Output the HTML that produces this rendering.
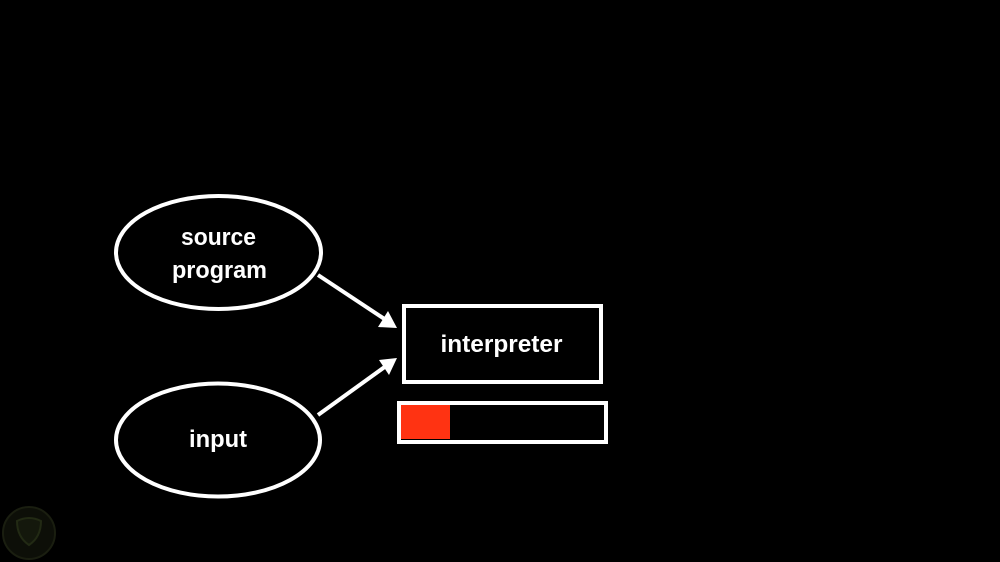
<!DOCTYPE html>
<html>
<head>
<meta charset="utf-8">
<style>
html,body{margin:0;padding:0;background:#000;}
body{width:1000px;height:562px;overflow:hidden;}
svg{display:block;}
text{font-family:"Liberation Sans",sans-serif;font-weight:bold;fill:#fff;font-size:24px;}
</style>
</head>
<body>
<svg width="1000" height="562" viewBox="0 0 1000 562" xmlns="http://www.w3.org/2000/svg">
<rect x="0" y="0" width="1000" height="562" fill="#000"/>
<!-- ellipses -->
<ellipse cx="218.5" cy="252.5" rx="102.5" ry="56.5" fill="none" stroke="#fff" stroke-width="4"/>
<ellipse cx="218" cy="440" rx="102" ry="56.5" fill="none" stroke="#fff" stroke-width="4"/>
<text x="218.5" y="245" text-anchor="middle" textLength="75" lengthAdjust="spacingAndGlyphs">source</text>
<text x="219.5" y="278" text-anchor="middle" textLength="95" lengthAdjust="spacingAndGlyphs">program</text>
<text x="218" y="447" text-anchor="middle" textLength="58" lengthAdjust="spacingAndGlyphs">input</text>
<!-- interpreter box -->
<rect x="404" y="306" width="197" height="76" fill="none" stroke="#fff" stroke-width="4"/>
<text x="501.5" y="352" text-anchor="middle" textLength="122" lengthAdjust="spacingAndGlyphs">interpreter</text>
<!-- progress bar -->
<rect x="399" y="403" width="207" height="39" fill="none" stroke="#fff" stroke-width="4"/>
<rect x="401" y="405" width="49" height="34" fill="#ff3312"/>
<!-- arrows -->
<line x1="318" y1="275" x2="386" y2="320" stroke="#fff" stroke-width="4"/>
<polygon points="397,328 378,327 388,311" fill="#fff"/>
<line x1="318" y1="415" x2="386" y2="366" stroke="#fff" stroke-width="4"/>
<polygon points="397,358 379,360 389,375" fill="#fff"/>
<!-- faint logo -->
<circle cx="29" cy="533" r="26" fill="#0d0f08" stroke="#1a1e10" stroke-width="2"/>
<path d="M17 521 Q29 515 41 521 Q41 537 29 545 Q17 537 17 521 Z" fill="#14180c" stroke="#222a14" stroke-width="2"/>
</svg>
</body>
</html>
